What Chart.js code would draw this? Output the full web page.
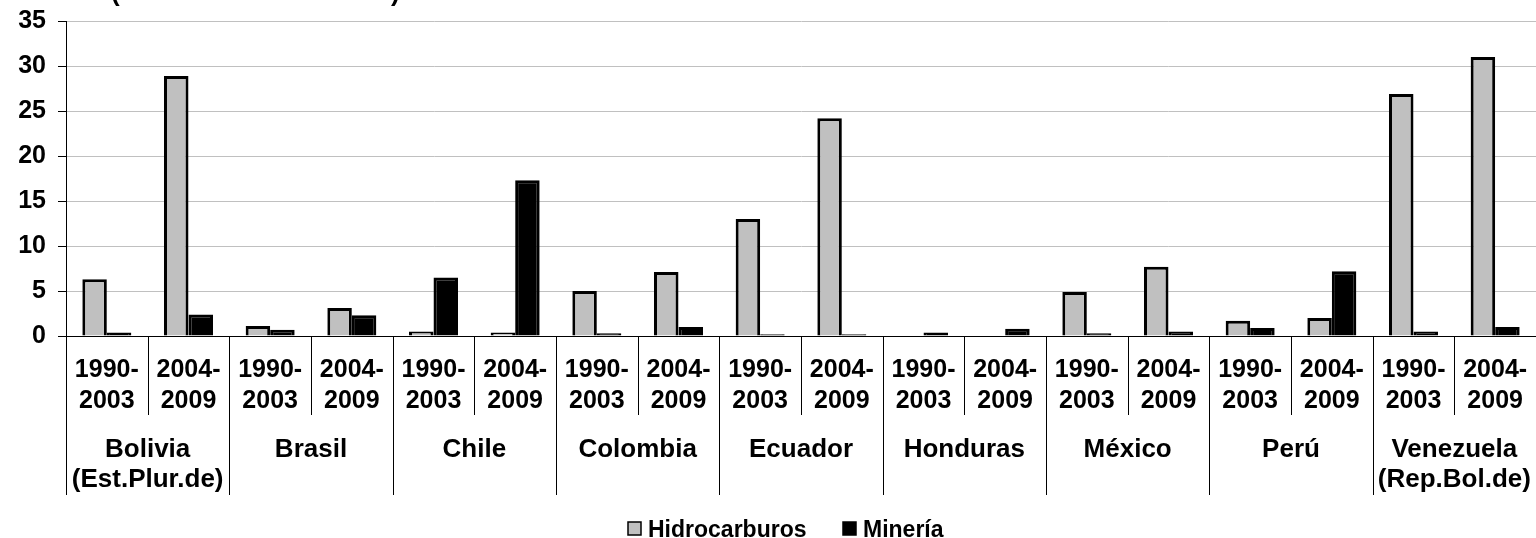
<!DOCTYPE html>
<html>
<head>
<meta charset="utf-8">
<script src="https://cdn.jsdelivr.net/npm/chart.js@4.4.1/dist/chart.umd.min.js"></script>
<style>
  html,body{margin:0;padding:0;background:#fff;}
  #wrap{width:1536px;height:538px;position:relative;}
</style>
</head>
<body>
<div id="wrap"><canvas id="chart" width="1536" height="538"></canvas></div>
<script>
// Data
const periods = ['1990-2003','2004-2009','1990-2003','2004-2009','1990-2003','2004-2009','1990-2003','2004-2009','1990-2003','2004-2009','1990-2003','2004-2009','1990-2003','2004-2009','1990-2003','2004-2009','1990-2003','2004-2009'];
const countries = [['Bolivia','(Est.Plur.de)'],['Brasil'],['Chile'],['Colombia'],['Ecuador'],['Honduras'],['México'],['Perú'],['Venezuela','(Rep.Bol.de)']];
const hidrocarburos = [6.3, 28.9, 1.1, 3.1, 0.5, 0.4, 5.0, 7.1, 13.0, 24.2, 0, 0, 4.9, 7.7, 1.7, 2.0, 26.9, 31.0];
const mineria = [0.4, 2.4, 0.7, 2.3, 6.5, 17.3, 0.3, 1.0, 0.2, 0.2, 0.4, 0.8, 0.3, 0.5, 0.9, 7.2, 0.5, 1.0];
const seriesNames = ['Hidrocarburos','Minería'];
const yTicks = {min:0, max:35, step:5};

const FONT = "'Liberation Sans', Arial, sans-serif";
const GRAY = '#c0c0c0';

// custom multi-level axis labels + legend
const drawExtras = {
  id:'drawExtras',
  afterDraw(chart){
    const ctx = chart.ctx;
    const x = chart.scales.x;
    const bottom = chart.chartArea.bottom;
    const half = (x.getPixelForValue(1) - x.getPixelForValue(0))/2;
    ctx.save();
    ctx.strokeStyle = '#000';
    ctx.lineWidth = 1;
    // separators
    for(let i=0;i<=periods.length;i++){
      const px = Math.round(x.getPixelForValue(i) - half) + 0.5;
      const isCountry = i%2===0;
      ctx.beginPath();
      ctx.moveTo(px,bottom);
      ctx.lineTo(px,bottom + (isCountry?159:79));
      ctx.stroke();
    }
    ctx.fillStyle = '#000';
    ctx.textAlign = 'center';
    ctx.textBaseline = 'alphabetic';
    // period labels
    ctx.font = 'bold 25px '+FONT;
    periods.forEach((p,i)=>{
      const cx = x.getPixelForValue(i);
      const parts = p.split('-');
      ctx.fillText(parts[0]+'-', cx, bottom+41);
      ctx.fillText(parts[1], cx, bottom+72);
    });
    // country labels
    ctx.font = 'bold 26px '+FONT;
    countries.forEach((lines,k)=>{
      const cx = (x.getPixelForValue(2*k) + x.getPixelForValue(2*k+1))/2;
      lines.forEach((ln,j)=> ctx.fillText(ln, cx, bottom+121+j*30));
    });
    // legend
    ctx.font = 'bold 23px '+FONT;
    ctx.textAlign = 'left';
    const ly = 529;
    const items = [{name:seriesNames[0], fill:GRAY, x:628},{name:seriesNames[1], fill:'#000', x:843}];
    items.forEach(it=>{
      ctx.fillStyle = it.fill;
      ctx.fillRect(it.x, ly-7, 13, 13);
      ctx.strokeStyle = '#000'; ctx.lineWidth = 1.5;
      ctx.strokeRect(it.x, ly-7, 13, 13);
      ctx.fillStyle = '#000';
      ctx.fillText(it.name, it.x+20, ly+8);
    });
    // clipped title fragments at top
    ctx.font = 'bold 26px '+FONT;
    ctx.fillText('(', 111, 1);
    ctx.fillText(')', 391, 1);
    ctx.restore();
  }
};

new Chart(document.getElementById('chart').getContext('2d'),{
  type:'bar',
  data:{
    labels:periods,
    datasets:[
      {label:seriesNames[0], data:hidrocarburos, backgroundColor:GRAY, borderColor:'#000', borderWidth:3, borderSkipped:'bottom', categoryPercentage:0.6, barPercentage:1},
      {label:seriesNames[1], data:mineria, backgroundColor:'#000', borderColor:'#000', borderWidth:3, borderSkipped:'bottom', categoryPercentage:0.6, barPercentage:1}
    ]
  },
  options:{
    responsive:false,
    animation:false,
    layout:{padding:{top:21,left:0,right:0,bottom:202}},
    plugins:{legend:{display:false},tooltip:{enabled:false}},
    scales:{
      x:{
        ticks:{display:false},
        grid:{display:false},
        border:{color:'#000',width:1},
        afterFit(s){ s.height = 0; s.paddingLeft = 0; s.paddingRight = 0; }
      },
      y:{
        min:yTicks.min, max:yTicks.max,
        ticks:{stepSize:yTicks.step, color:'#000', font:{family:FONT, size:25, weight:'bold'}, padding:12},
        grid:{color:(c)=> c.tick && c.tick.value===0 ? '#000' : GRAY, tickColor:'#000', tickLength:8, lineWidth:1},
        border:{color:'#000',width:1},
        afterFit(s){ s.width = 66; s.paddingTop = 0; s.paddingBottom = 0; }
      }
    }
  },
  plugins:[drawExtras]
});
</script>
</body>
</html>
